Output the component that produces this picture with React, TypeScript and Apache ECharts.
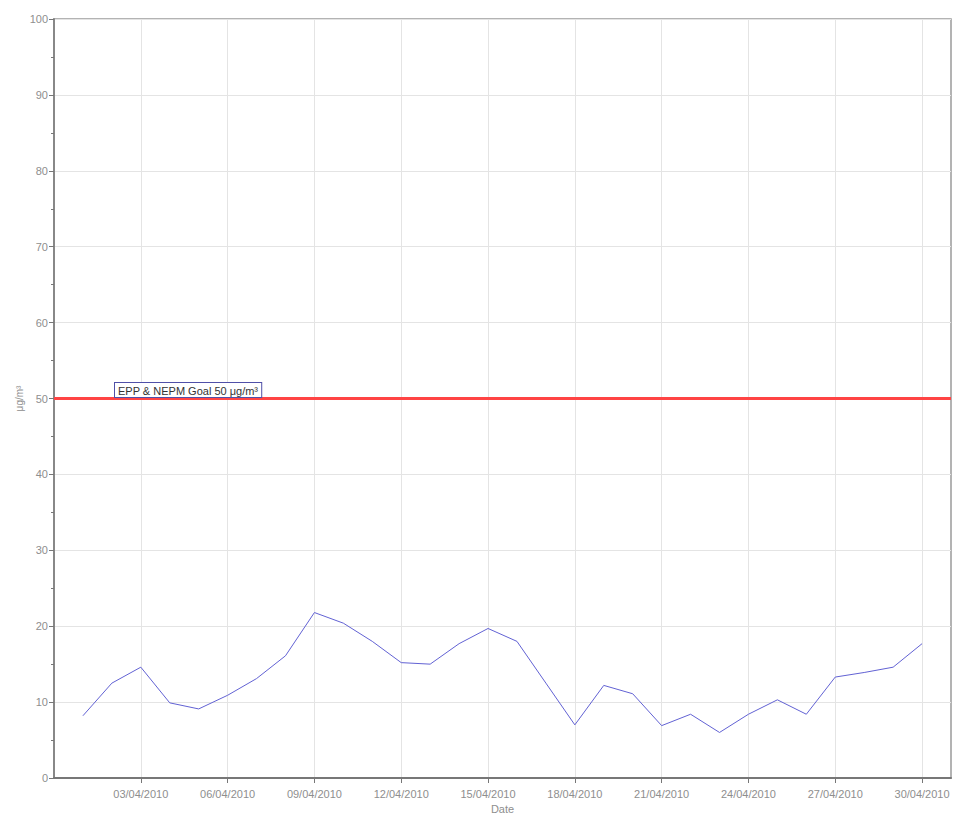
import React, { useEffect, useRef } from "react";
import * as echarts from "echarts";

const days = [1, 2, 3, 4, 5, 6, 7, 8, 9, 10, 11, 12, 13, 14, 15, 16, 17, 18, 19, 20, 21, 22, 23, 24, 25, 26, 27, 28, 29, 30];
const pm10 = [8.2, 12.5, 14.6, 9.9, 9.1, 10.9, 13.1, 16.1, 21.8, 20.4, 18.0, 15.2, 15.0, 17.7, 19.7, 18.0, 12.5, 7.0, 12.2, 11.1, 6.9, 8.4, 6.0, 8.4, 10.3, 8.4, 13.3, 13.9, 14.6, 17.7];
const labelDays = [3, 6, 9, 12, 15, 18, 21, 24, 27, 30];
const goalValue = 50;
const goalLabel = "EPP & NEPM Goal 50 μg/m³";
const monthSuffix = "/04/2010";
const yTitle = "μg/m³";
const xTitle = "Date";

const FONT = '"Liberation Sans", Arial, sans-serif';
const LABEL_COLOR = "#8e8e8e";

export default function App() {
  const ref = useRef<HTMLDivElement>(null);
  useEffect(() => {
    if (!ref.current) return;
    const chart = echarts.init(ref.current, undefined, { renderer: "svg" });
    const fmt = (v: number) => {
      if (!labelDays.includes(v)) return "";
      return (v < 10 ? "0" + v : String(v)) + monthSuffix;
    };
    chart.setOption({
      animation: false,
      backgroundColor: "#fff",
      textStyle: { fontFamily: FONT },
      grid: {
        left: 54,
        right: 16,
        top: 19,
        bottom: 39,
        containLabel: false,
        outerBoundsMode: "none",
        show: true,
        borderColor: "#9a9a9a",
        borderWidth: 1.5,
        backgroundColor: "#fff",
      },
      xAxis: {
        type: "value",
        min: 0,
        max: 31,
        interval: 3,
        name: xTitle,
        nameLocation: "middle",
        nameGap: 25,
        nameMoveOverlap: false,
        nameTextStyle: { color: LABEL_COLOR, fontSize: 11, fontFamily: FONT },
        axisLine: { show: true, lineStyle: { color: "#777", width: 2 } },
        axisTick: { show: true, length: 5, lineStyle: { color: "#777" }, customValues: labelDays },
        axisLabel: { color: LABEL_COLOR, fontSize: 11, fontFamily: FONT, margin: 10, formatter: fmt, customValues: labelDays },
        splitLine: { show: true, lineStyle: { color: "#e4e4e4", width: 1 } },
      },
      yAxis: {
        type: "value",
        min: 0,
        max: 100,
        interval: 10,
        name: yTitle,
        nameLocation: "middle",
        nameGap: 30,
        nameMoveOverlap: false,
        nameTextStyle: { color: LABEL_COLOR, fontSize: 10, fontFamily: FONT },
        axisLine: { show: true, lineStyle: { color: "#888", width: 2 } },
        axisTick: { show: true, length: 5, lineStyle: { color: "#777" } },
        minorTick: { show: true, splitNumber: 2, length: 3, lineStyle: { color: "#777" } },
        axisLabel: { color: LABEL_COLOR, fontSize: 11, fontFamily: FONT, margin: 6 },
        splitLine: { show: true, lineStyle: { color: "#e4e4e4", width: 1 } },
      },
      series: [
        {
          type: "line",
          data: days.map((d, i) => [d, pm10[i]]),
          symbol: "none",
          lineStyle: { color: "#6262d4", width: 1 },
          itemStyle: { color: "#6262d4" },
          markLine: {
            silent: true,
            symbol: "none",
            label: { show: false },
            lineStyle: { color: "#ff4444", width: 3, type: "solid" },
            data: [{ yAxis: goalValue }],
          },
        },
      ],
      graphic: [
        {
          type: "text",
          left: 114,
          top: 382,
          z: 100,
          style: {
            text: goalLabel,
            fill: "#333",
            font: `11px ${FONT}`,
            backgroundColor: "#fff",
            borderColor: "#5050a8",
            borderWidth: 1,
            padding: [2, 3, 1, 3],
          },
        },
      ],
    });
    return () => chart.dispose();
  }, []);
  return <div ref={ref} style={{ width: 967, height: 817, position: "absolute", left: 0, top: 0 }} />;
}
